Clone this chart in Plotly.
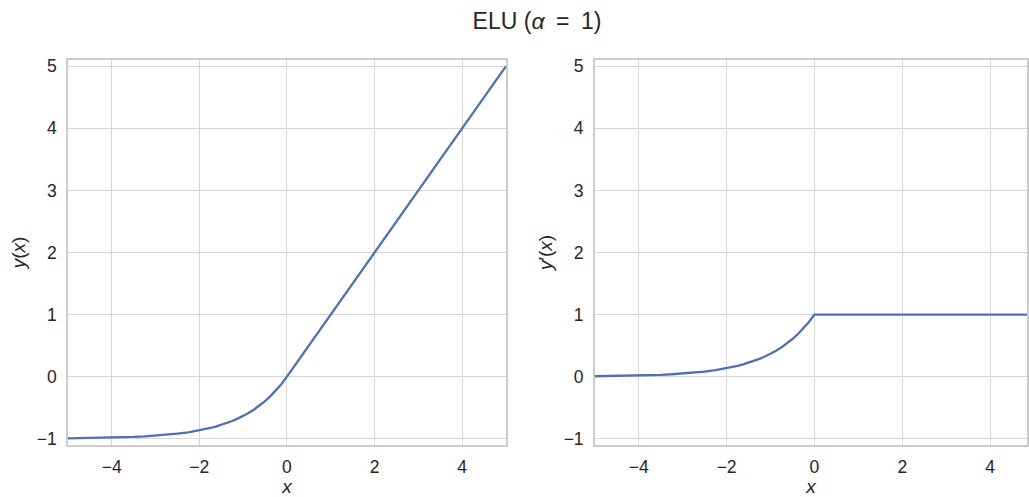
import plotly.graph_objects as go

# Values
x_vals = [-5.0, -4.75, -4.5, -4.25, -4.0, -3.75, -3.5, -3.25, -3.0, -2.75, -2.5, -2.25, -2.0, -1.875, -1.75, -1.625,
          -1.5, -1.375, -1.25, -1.125, -1.0, -0.875, -0.75, -0.625, -0.5, -0.375, -0.25, -0.125, 0.0, 5.0]
elu_vals = [-0.993, -0.991, -0.989, -0.986, -0.982, -0.976, -0.970, -0.961, -0.950, -0.936, -0.918, -0.895, -0.865,
            -0.847, -0.826, -0.803, -0.777, -0.747, -0.713, -0.675, -0.632, -0.583, -0.528, -0.465, -0.393,
            -0.313, -0.221, -0.118, 0.0, 5.0]
deriv_vals = [0.007, 0.009, 0.011, 0.014, 0.018, 0.024, 0.030, 0.039, 0.050, 0.064, 0.082, 0.105, 0.135,
              0.153, 0.174, 0.197, 0.223, 0.253, 0.287, 0.325, 0.368, 0.417, 0.472, 0.535, 0.607,
              0.687, 0.779, 0.882, 1.0, 1.0]

x_ticks = [-4, -2, 0, 2, 4]
x_tick_text = ["\u22124", "\u22122", "0", "2", "4"]
y_ticks = [-1, 0, 1, 2, 3, 4, 5]
y_tick_text = ["\u22121", "0", "1", "2", "3", "4", "5"]

W, H = 1029, 497
line_color = "#4c72b0"
grid_color = "#d6d6d6"
frame_color = "#cccccc"
text_color = "#262626"
font_family = "Liberation Sans, Arial, sans-serif"
tick_font = dict(size=17.5, color=text_color, family=font_family)
label_font = dict(size=19, color=text_color, family=font_family)

fig = go.Figure()
fig.add_trace(go.Scatter(x=x_vals, y=elu_vals, mode="lines", line=dict(color=line_color, width=2.3),
                         xaxis="x", yaxis="y", showlegend=False))
fig.add_trace(go.Scatter(x=x_vals, y=deriv_vals, mode="lines", line=dict(color=line_color, width=2.3),
                         xaxis="x2", yaxis="y2", showlegend=False))

common_x = dict(tickvals=x_ticks, ticktext=x_tick_text, showgrid=True, gridcolor=grid_color, gridwidth=1,
                showline=True, linecolor=frame_color, linewidth=1.5, mirror=True, zeroline=False,
                ticks="", ticklabelstandoff=5, tickfont=tick_font,
                title=dict(text="<i>x</i>", font=label_font, standoff=2))
common_y = dict(tickvals=y_ticks, ticktext=y_tick_text, range=[-1.1, 5.1], showgrid=True, gridcolor=grid_color,
                gridwidth=1, showline=True, linecolor=frame_color, linewidth=1.5, mirror=True, zeroline=False,
                ticks="", ticklabelstandoff=6, tickfont=tick_font)

fig.update_layout(
    width=W, height=H,
    margin=dict(l=0, r=0, t=60, b=52, pad=0),
    paper_bgcolor="white", plot_bgcolor="white",
    font=dict(family=font_family, color=text_color),
    title=dict(text="ELU (<i>\u03b1</i>\u2002=\u20021)", x=537 / W, xanchor="center", y=0.958, yanchor="middle",
               font=dict(size=23, color=text_color, family=font_family)),
    xaxis=dict(domain=[68 / W, 507 / W], range=[-5, 5], anchor="y", **common_x),
    yaxis=dict(domain=[0, 1], anchor="x",
               title=dict(text="<i>y</i>(<i>x</i>)", font=label_font, standoff=6),
               **common_y),
    xaxis2=dict(domain=[596 / W, 1.0], range=[-5, 4.84], anchor="y2", **common_x),
    yaxis2=dict(domain=[0, 1], anchor="x2",
                title=dict(text="<i>y</i>\u2032(<i>x</i>)", font=label_font, standoff=6),
                **common_y),
)

fig.write_html("out.html", config={"displayModeBar": False},
               post_script="document.body.style.margin='0';document.body.style.overflow='hidden';")
